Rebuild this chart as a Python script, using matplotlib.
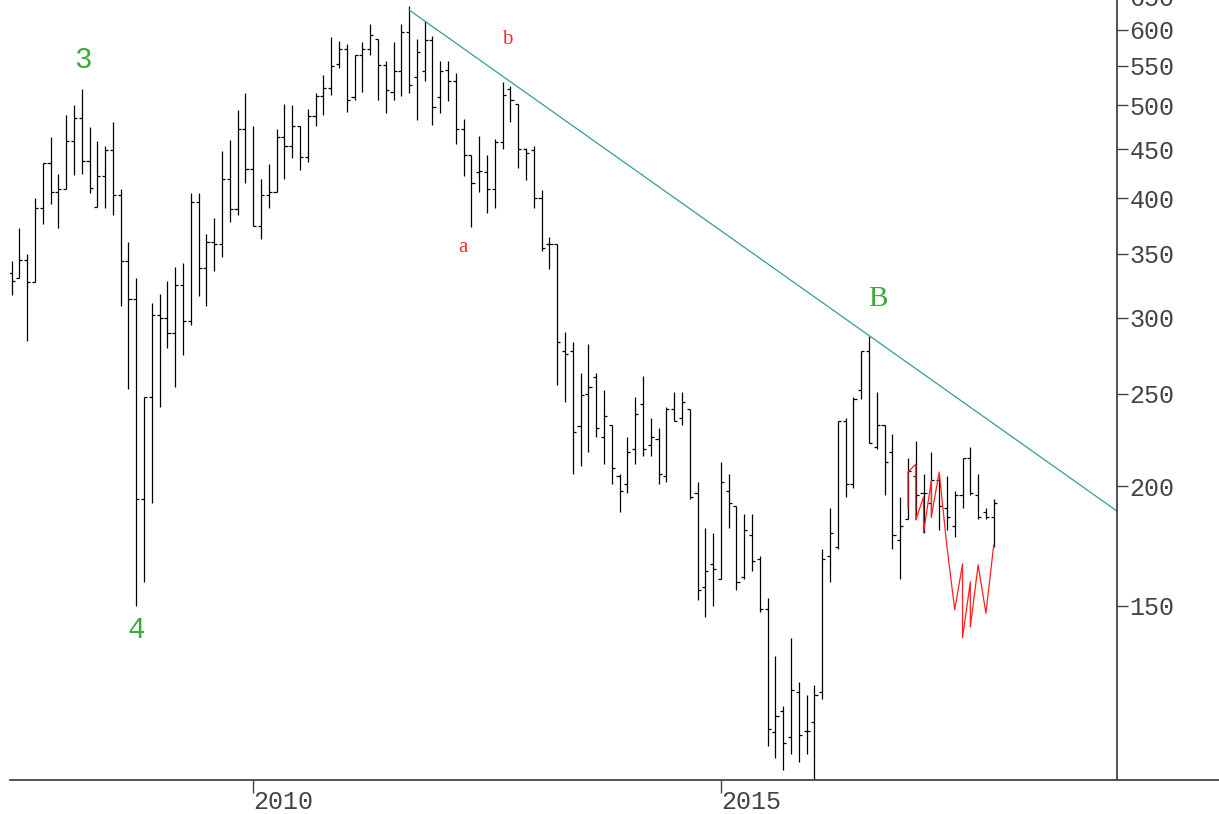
import numpy as np
import pandas as pd
import matplotlib
matplotlib.use('Agg')
import matplotlib.pyplot as plt
from matplotlib.collections import LineCollection
from matplotlib.ticker import FixedLocator, NullLocator

# monthly OHLC bars, Jun 2007 .. Dec 2017
start_month = '2007-06'
opens = [334, 330, 345, 327, 391, 435, 406, 409, 459, 485, 437, 392, 422, 449, 403, 344, 314, 194, 248, 302,
         300, 289, 325, 298, 396, 338, 360, 358, 419, 390, 473, 429, 374, 403, 406, 463, 453, 476, 442, 488,
         512, 521, 553, 573, 510, 565, 572, 587, 551, 517, 543, 597, 535, 543, 585, 510, 545, 530, 473, 444,
         426, 426, 409, 458, 520, 502, 450, 449, 400, 358, 358, 277, 277, 231, 250, 260, 225, 232, 205, 201,
         219, 244, 221, 224, 205, 241, 236, 241, 197, 157, 166, 160, 198, 191, 161, 178, 168, 149, 110.9, 116.5,
         109.5, 122, 111, 113.6, 122, 169, 173, 234, 201, 252, 277, 220, 232, 217, 176, 185, 205, 197, 192, 203,
         190, 182, 196, 214, 196, 188, 186]
highs = [344, 372, 350, 400, 435, 463, 424, 489, 500, 520, 475, 459, 454, 480, 409, 360, 330, 248, 311, 318,
         328, 339, 342, 405, 405, 367, 381, 448, 460, 495, 515, 476, 419, 434, 472, 502, 501, 476, 496, 515,
         538, 589, 584, 580, 565, 582, 608, 587, 556, 582, 608, 635, 586, 613, 591, 556, 556, 541, 484, 444,
         464, 444, 461, 529, 524, 502, 451, 454, 408, 364, 358, 290, 283, 263, 282, 263, 252, 232, 206, 225,
         248, 261, 236, 230, 242, 251, 251, 241, 202, 181, 179, 212, 206, 191, 187, 187, 169, 153, 133, 118,
         139, 125, 121, 124, 172, 190, 234, 236, 248, 277, 287, 251, 232, 227, 195, 214, 223, 206, 217, 205,
         205, 198, 214, 220, 206, 190, 194]
lows = [317, 330, 284, 327, 376, 394, 372, 409, 423, 424, 405, 392, 391, 384, 309, 253, 150, 159, 192, 242,
        279, 254, 274, 295, 316, 309, 336, 347, 378, 384, 415, 374, 363, 391, 406, 419, 441, 428, 436, 476,
        489, 513, 547, 492, 507, 517, 565, 507, 491, 506, 511, 515, 483, 530, 477, 491, 505, 456, 422, 373,
        406, 386, 391, 450, 480, 430, 418, 391, 352, 337, 255, 245, 206, 210, 217, 225, 211, 201, 188, 197,
        211, 215, 215, 201, 202, 234, 232, 194, 152, 146, 150, 160, 181, 156, 160, 163, 148, 107, 104, 101,
        105, 103, 105, 97, 120, 159, 172, 195, 199, 247, 222, 219, 196, 172, 160, 185, 185, 179, 186, 180,
        180, 177, 190, 196, 185, 185, 173]
closes = [328, 345, 327, 391, 435, 406, 409, 459, 485, 437, 410, 422, 449, 403, 344, 314, 194, 248, 302, 300,
          289, 325, 298, 396, 338, 360, 358, 419, 390, 473, 429, 374, 403, 406, 463, 453, 476, 442, 488, 512,
          521, 550, 573, 507, 565, 572, 593, 551, 519, 543, 597, 525, 568, 585, 498, 543, 530, 473, 444, 415,
          427, 409, 458, 513, 507, 450, 446, 400, 355, 358, 283, 275, 228, 249, 254, 230, 237, 209, 198, 217,
          238, 219, 225, 206, 241, 234, 245, 195, 156, 163, 164, 202, 192, 159, 180, 167, 149, 111.6, 115, 108,
          122.6, 110, 111, 121, 168, 179, 234, 201, 247, 277, 222, 232, 212, 178, 182, 207.5, 196, 197, 203, 191,
          186, 196, 214, 197, 186, 186, 192]

# red projected path
red_dates = ['2017-01', '2017-01', '2017-02', '2017-02', '2017-03', '2017-03', '2017-04', '2017-04', '2017-05',
             '2017-06', '2017-07', '2017-08', '2017-08', '2017-09', '2017-09', '2017-10', '2017-11', '2017-12']
red_values = [190, 207, 211, 184.5, 195, 179, 203, 186, 207, 173, 148.6, 166, 139, 159, 142.6, 165.6, 147.4, 173.7]

# trend line (from 2011 top to the price axis)
trend_month = [20, 110.8]
trend_values = [629, 188.5]

# wave labels
labels = [('3', -21.8, 558, '#3aaa3a'), ('4', -15.0, 141.6, '#3aaa3a'), ('B', 80.1, 314, '#3aaa3a'),
          ('a', 26.9, 355, '#ff2a2a'), ('b', 32.6, 586, '#ff2a2a')]

yticks = [150, 200, 250, 300, 350, 400, 450, 500, 550, 600, 650]
xtick_years = [2010, 2015]


def month_num(p):
    p = pd.Period(p, freq='M')
    return (p.year - 2010) * 12 + p.month - 1


months = pd.period_range(start_month, periods=len(opens), freq='M')
x = np.array([month_num(p) for p in months])

plt.rcParams['font.family'] = ['Liberation Mono', 'DejaVu Sans Mono']

fig = plt.figure(figsize=(12.19, 8.14), dpi=100)
ax = fig.add_axes([10 / 1219, 34 / 814, 1209 / 1219, 790 / 814])
ax.set_yscale('log')
ax.set_xlim(-31.2, 123.9)
ax.set_ylim(98.7, 660)

# ohlc bars
segs = []
for xi, o, h, l, c in zip(x, opens, highs, lows, closes):
    segs.append([(xi, l), (xi, h)])
    segs.append([(xi - 0.4, o), (xi, o)])
    segs.append([(xi, c), (xi + 0.4, c)])
ax.add_collection(LineCollection(segs, colors='black', linewidths=0.9))

# trend line and projection
ax.plot(trend_month, trend_values, color='#2f9e9e', lw=0.9)
ax.plot([month_num(d) for d in red_dates], red_values, color='#ff2020', lw=0.9)

for txt, lx, ly, col in labels:
    fam = 'Liberation Serif' if txt.isalpha() else 'Liberation Mono'
    size = 15 if txt.islower() else 21
    ax.text(lx, ly, txt, color=col, fontsize=size, family=fam, ha='center', va='center')

# axes styling
for s in ['top', 'left']:
    ax.spines[s].set_visible(False)
ax.spines['right'].set_position(('data', 110.8))
ax.spines['right'].set_color('#444444')
ax.spines['bottom'].set_color('#444444')
ax.spines['right'].set_linewidth(1.3)
ax.spines['bottom'].set_linewidth(1.3)

ax.yaxis.tick_right()
ax.yaxis.set_major_locator(FixedLocator(yticks))
ax.yaxis.set_minor_locator(NullLocator())
ax.set_yticklabels([str(v) for v in yticks])
ax.tick_params(axis='y', direction='out', length=8, width=1, colors='#444444', pad=1, labelsize=18)

ax.xaxis.set_major_locator(FixedLocator([month_num('%d-01' % y) for y in xtick_years]))
ax.xaxis.set_minor_locator(NullLocator())
ax.set_xticklabels([str(y) for y in xtick_years])
ax.tick_params(axis='x', direction='out', length=9.4, width=1, colors='#444444', pad=-2.5, labelsize=18)
for lbl in ax.get_xticklabels():
    lbl.set_horizontalalignment('left')

fig.savefig('out.png', dpi=100)
